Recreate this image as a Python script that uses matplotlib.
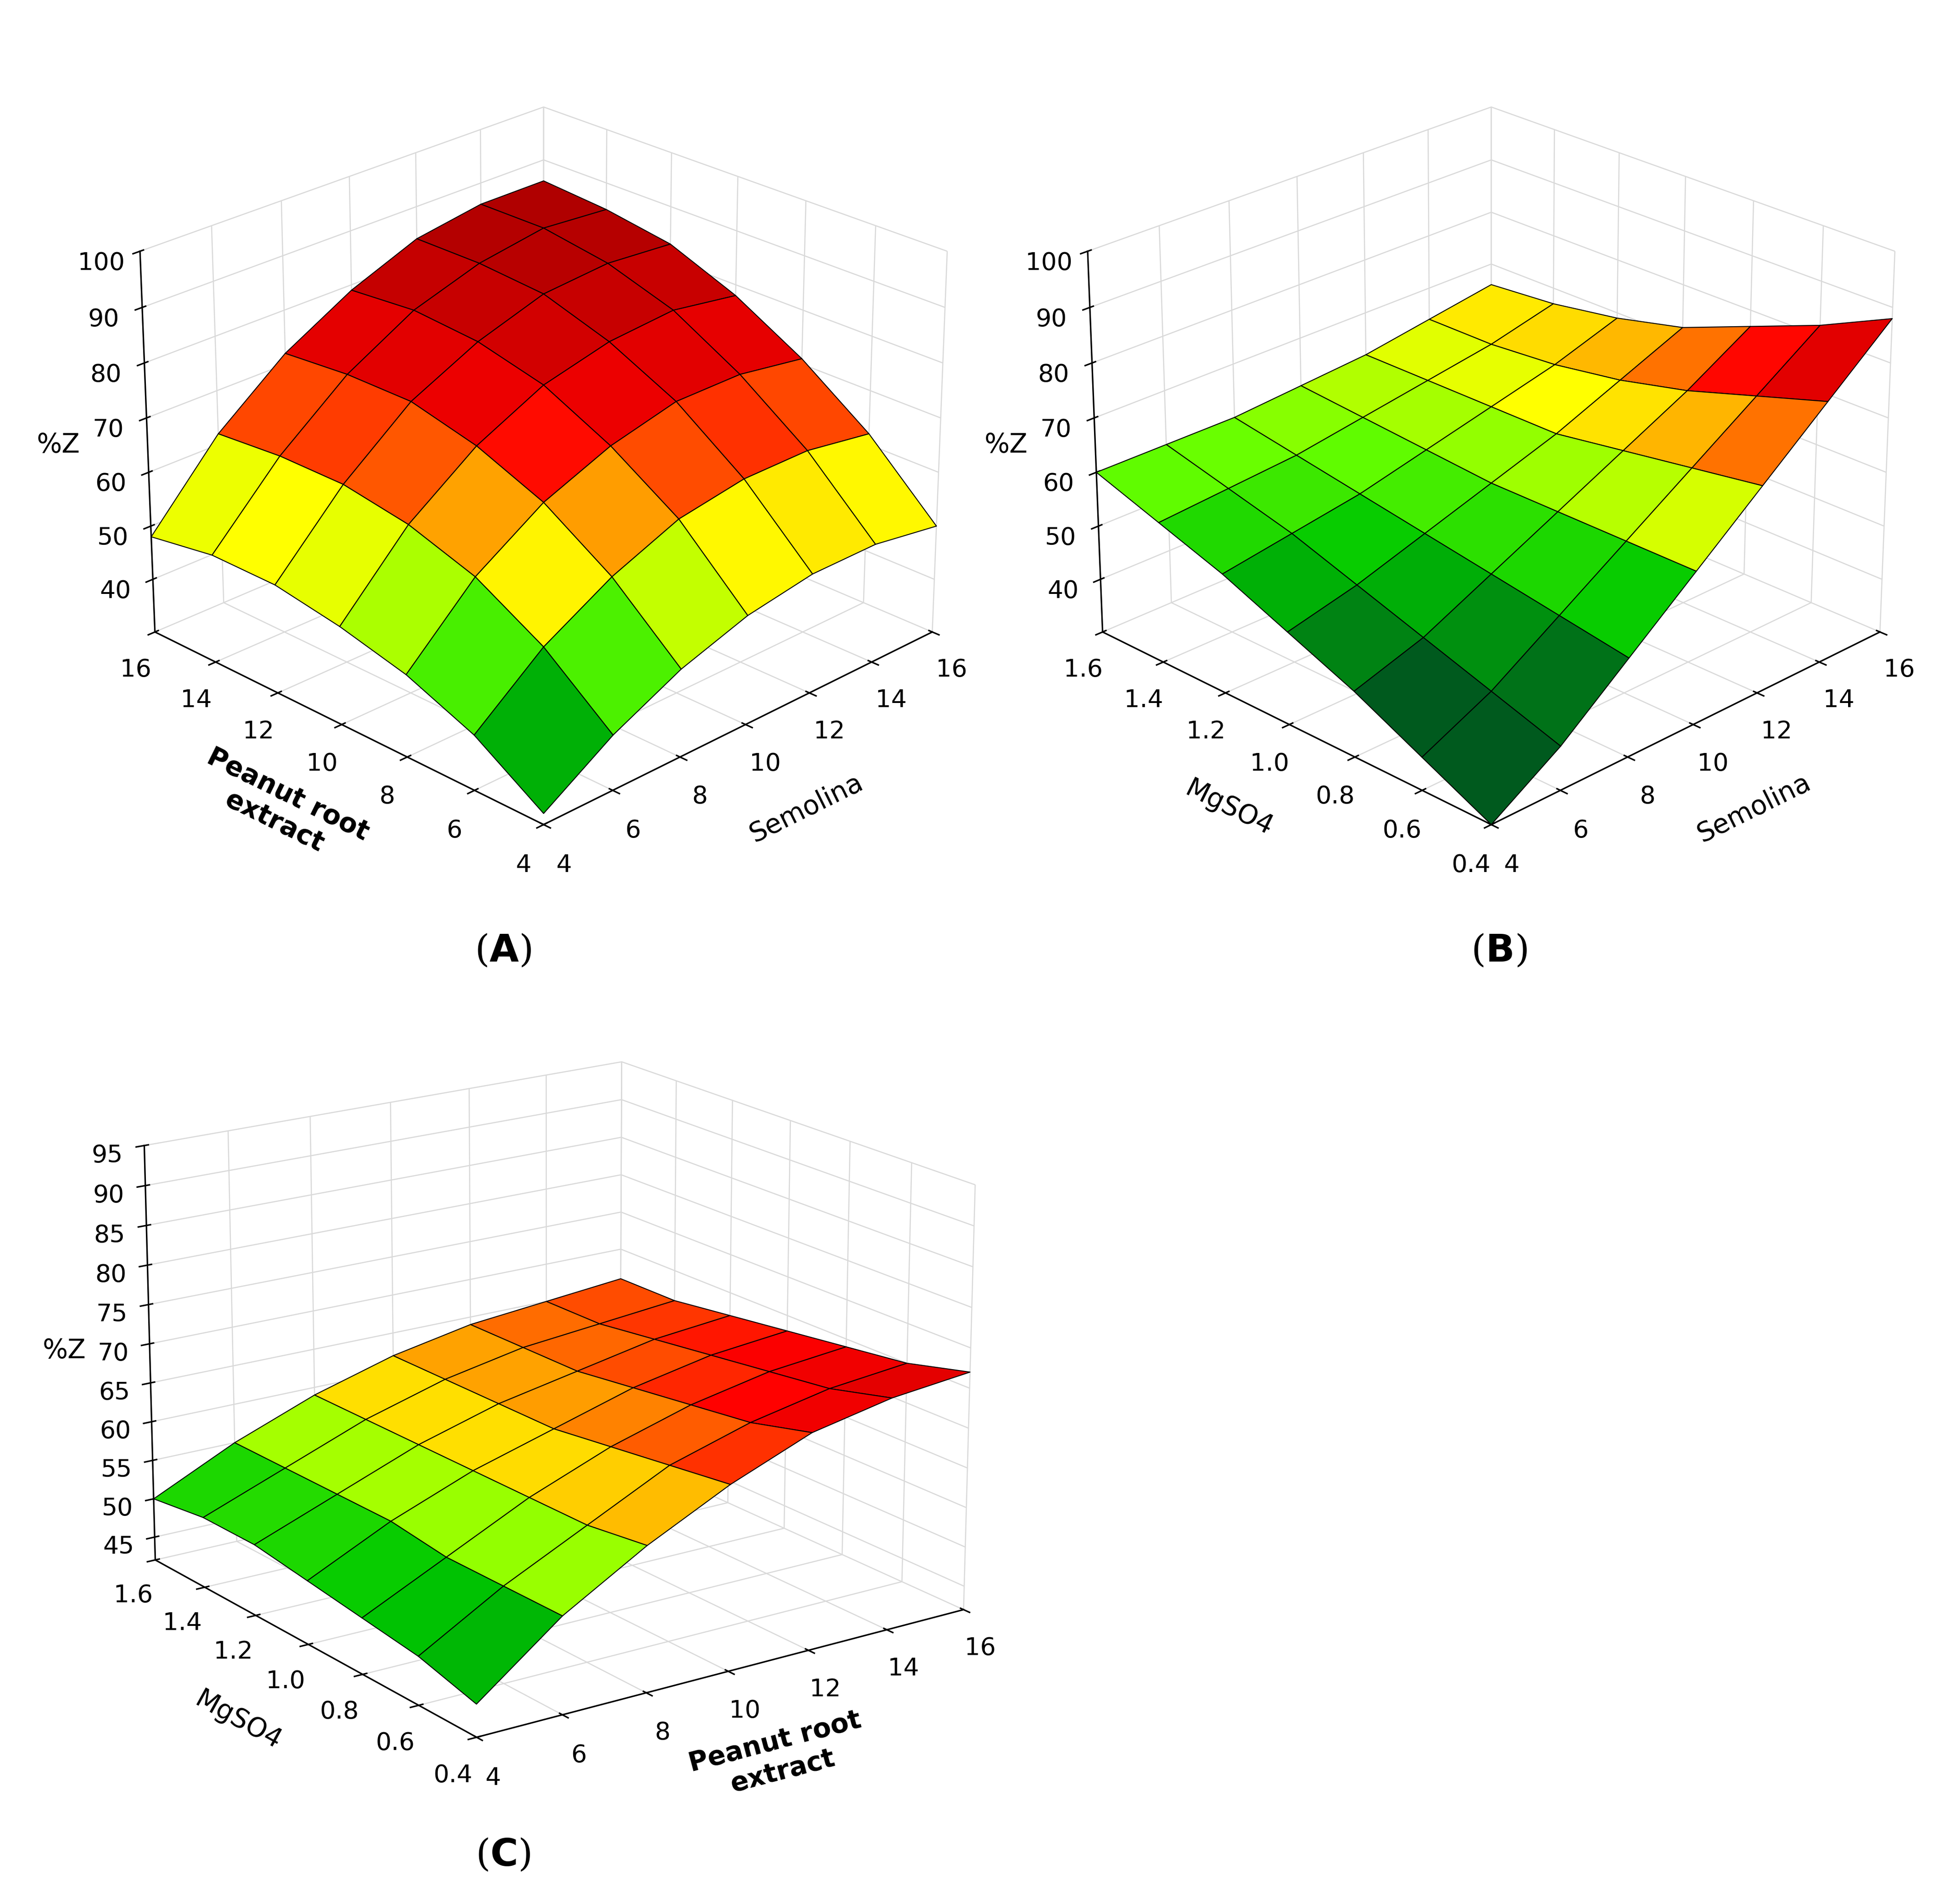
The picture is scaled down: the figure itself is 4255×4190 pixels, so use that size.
import numpy as np
import matplotlib
matplotlib.use("Agg")
import matplotlib.pyplot as plt
from matplotlib.colors import LinearSegmentedColormap

semolina = [4, 6, 8, 10, 12, 14, 16]
peanut = [4, 6, 8, 10, 12, 14, 16]
mgso4 = [0.4, 0.6, 0.8, 1.0, 1.2, 1.4, 1.6]

# Panel A: rows = peanut root extract, cols = semolina
zA = [[32, 40, 46, 50, 52, 52, 50],
      [40, 50, 57, 62, 64, 64, 62],
      [45, 57, 65, 70, 73, 73, 71],
      [48, 61, 70, 76, 79, 80, 78],
      [50, 63, 73, 79, 83, 84, 83],
      [50, 63, 73, 80, 84, 86, 85],
      [48, 62, 72, 79, 84, 86, 86]]
# Panel B: rows = MgSO4, cols = semolina
zB = [[30, 38, 48, 58, 68, 78, 88],
      [36, 42, 50, 58, 66, 74, 82],
      [42, 46, 52, 58, 64, 70, 77],
      [47, 50, 54, 58, 62, 67, 72],
      [52, 54, 56, 59, 62, 65, 69],
      [56, 57, 58, 60, 62, 64, 67],
      [60, 60, 60, 61, 62, 64, 66]]
# Panel C: rows = MgSO4, cols = peanut root extract
zC = [[46, 54, 60, 65, 69, 71, 72],
      [48, 54, 59, 64, 67, 69, 70],
      [49, 54, 59, 63, 66, 68, 69],
      [50, 55, 59, 62, 65, 67, 68],
      [51, 55, 59, 62, 64, 66, 67],
      [51, 55, 59, 62, 64, 65, 66],
      [50, 55, 59, 62, 64, 65, 66]]

cmap = LinearSegmentedColormap.from_list(
    "gyr", [(0.0, "#005a1e"), (0.2, "#00c800"), (0.3, "#66ff00"),
            (0.4, "#ffff00"), (0.5, "#ffa500"), (0.62, "#ff0000"),
            (1.0, "#7a0000")])

fig = plt.figure(figsize=(4255/300, 4190/300), dpi=300)

def panel(rect, xv, yv, z, xlab, ylab, zticks, zlim, yticks, ytl,
          azim, elev, vmin, vmax, xbold=False, ybold=False):
    ax = fig.add_axes(rect, projection="3d")
    X, Y = np.meshgrid(xv, yv)
    Z = np.array(z, dtype=float)
    ax.plot_surface(X, Y, Z, cmap=cmap, vmin=vmin, vmax=vmax,
                    edgecolor="black", linewidth=0.5, antialiased=True,
                    shade=False)
    ax.set_xlim(4, 16)
    ax.set_ylim(yticks[0], yticks[-1])
    ax.set_zlim(*zlim)
    ax.set_xticks([4, 6, 8, 10, 12, 14, 16])
    ax.set_yticks(yticks)
    ax.set_yticklabels(ytl)
    ax.set_zticks(zticks)
    ax.tick_params(labelsize=13)
    ax.set_xlabel(xlab, fontsize=14, labelpad=14,
                  fontweight="bold" if xbold else "normal")
    ax.set_ylabel(ylab, fontsize=14, labelpad=14,
                  fontweight="bold" if ybold else "normal")
    ax.set_zlabel("%Z", fontsize=14, labelpad=6)
    for a in (ax.xaxis, ax.yaxis, ax.zaxis):
        a.set_pane_color((1, 1, 1, 0))
        a._axinfo["grid"]["color"] = (0.85, 0.85, 0.85, 1)
        a._axinfo["grid"]["linewidth"] = 0.6
    ax.view_init(elev=elev, azim=azim)
    return ax

panel([0.05, 0.52, 0.45, 0.48], semolina, peanut, zA, "Semolina",
      "Peanut root\nextract", [40, 50, 60, 70, 80, 90, 100], (30, 100),
      [4, 6, 8, 10, 12, 14, 16], ["4", "6", "8", "10", "12", "14", "16"],
      -135, 25, 30, 96, ybold=True)
panel([0.54, 0.52, 0.45, 0.48], semolina, mgso4, zB, "Semolina",
      "MgSO4", [40, 50, 60, 70, 80, 90, 100], (30, 100),
      mgso4, ["0.4", "0.6", "0.8", "1.0", "1.2", "1.4", "1.6"],
      -135, 25, 42, 97)
panel([0.03, 0.03, 0.50, 0.48], peanut, mgso4, zC, "Peanut root\nextract",
      "MgSO4", [45, 50, 55, 60, 65, 70, 75, 80, 85, 90, 95], (42, 95),
      mgso4, ["0.4", "0.6", "0.8", "1.0", "1.2", "1.4", "1.6"],
      -125, 18, 44, 82, xbold=True)

for x, y, t in [(0.26, 0.495, "A"), (0.775, 0.495, "B"), (0.26, 0.02, "C")]:
    fig.text(x, y, r"($\mathbf{%s}$)" % t, ha="center", fontsize=20,
             family="serif")

fig.savefig("out.png", dpi=300)
